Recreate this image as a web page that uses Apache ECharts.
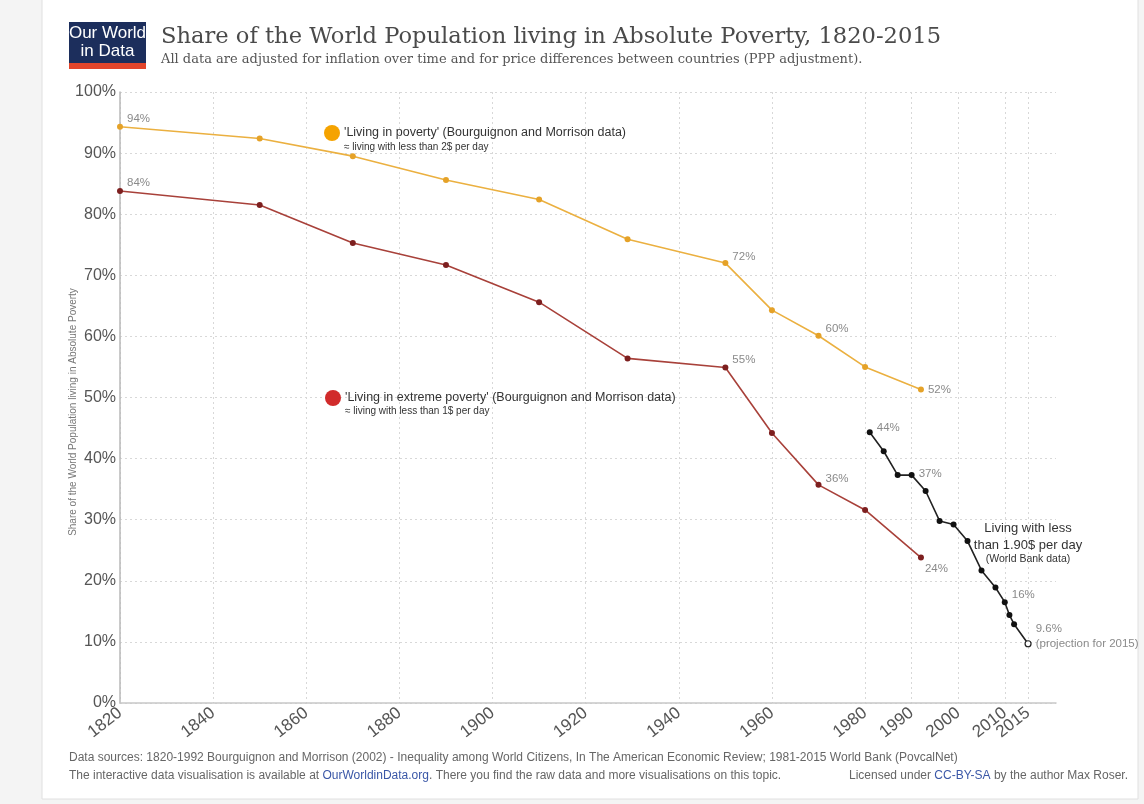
<!DOCTYPE html>
<html>
<head>
<meta charset="utf-8">
<script src="https://cdn.jsdelivr.net/npm/echarts@6/dist/echarts.min.js"></script>
<style>
html,body{margin:0;padding:0;background:#f4f4f4;}
#chart{width:1144px;height:804px;}
</style>
</head>
<body>
<div id="chart"></div>
<script>
// ---- data ----
const bmYears = [1820, 1850, 1870, 1890, 1910, 1929, 1950, 1960, 1970, 1980, 1992];
const povertyShare = [94.3, 92.4, 89.5, 85.6, 82.4, 75.9, 72.0, 64.3, 60.1, 55.0, 51.3];
const extremeShare = [83.8, 81.5, 75.3, 71.7, 65.6, 56.4, 54.9, 44.2, 35.7, 31.6, 23.8];
const wbYears = [1981, 1984, 1987, 1990, 1993, 1996, 1999, 2002, 2005, 2008, 2010, 2011, 2012, 2015];
const wbShare = [44.3, 41.2, 37.3, 37.3, 34.7, 29.8, 29.2, 26.5, 21.7, 18.9, 16.5, 14.4, 12.9, 9.7];
const xTickYears = [1820, 1840, 1860, 1880, 1900, 1920, 1940, 1960, 1980, 1990, 2000, 2010, 2015];
const xLabelYears = [1820, 1840, 1860, 1880, 1900, 1920, 1940, 1960, 1980, 1990, 2000, 2010];
const xExtraLabelYears = [2015];
const yTickValues = [0, 10, 20, 30, 40, 50, 60, 70, 80, 90, 100];
const povertyLabels = {1820: '94%', 1950: '72%', 1970: '60%', 1992: '52%'};
const extremeLabels = {1820: '84%', 1950: '55%', 1970: '36%', 1992: '24%'};
const wbLabels = {1981: '44%', 1990: '37%', 2010: '16%', 2015: '9.6%\n(projection for 2015)'};

// ---- label placement (style, not data) ----
const labelOffsets = {
  poverty: {1820: [0, -8], 1950: [0, -6], 1970: [0, -7], 1992: [0, 0]},
  extreme: {1820: [0, -8], 1950: [0, -8], 1970: [0, -6], 1992: [-3, 11]},
  wb: {1981: [0, -4], 1990: [0, -1], 2010: [0, -7], 2015: [0, -7]}
};

const labelStyle = {color: '#8a8a8a', fontSize: 11.5, fontFamily: 'Liberation Sans, Arial, sans-serif', lineHeight: 15};

function buildData(years, vals, labels, offsets, lastHollow) {
  return years.map((y, i) => {
    const item = {value: [y, vals[i]]};
    if (labels[y]) {
      item.label = Object.assign({
        show: true, position: 'right', distance: 4,
        offset: offsets[y] || [0, 0],
        formatter: labels[y]
      }, labelStyle);
    }
    if (lastHollow && i === years.length - 1) {
      item.itemStyle = {color: '#fff', borderColor: '#222', borderWidth: 1.2};
    }
    return item;
  });
}

const chart = echarts.init(document.getElementById('chart'), null, {renderer: 'canvas'});

const sans = 'Liberation Sans, Arial, Helvetica, sans-serif';
const xLabelStyle = {rotate: 38, margin: 8, interval: 0, hideOverlap: false,
  color: '#555', fontSize: 17, fontFamily: sans, formatter: v => String(v)};

const option = {
  backgroundColor: '#f4f4f4',
  animation: false,
  grid: {left: 120, right: 88, top: 92, bottom: 101, containLabel: false},
  xAxis: [
    {
      type: 'value', min: 1820, max: 2021,
      axisLine: {show: true, lineStyle: {color: '#c8c8c8', width: 1.5}},
      axisTick: {show: false, customValues: xTickYears},
      axisLabel: Object.assign({customValues: xLabelYears}, xLabelStyle),
      splitLine: {show: true, lineStyle: {color: '#d8d8d8', type: [2, 3], width: 1}}
    },
    {
      type: 'value', min: 1820, max: 2021, position: 'bottom',
      axisLine: {show: false},
      axisTick: {show: false, customValues: xExtraLabelYears},
      axisLabel: Object.assign({customValues: xExtraLabelYears}, xLabelStyle),
      splitLine: {show: false}
    }
  ],
  yAxis: {
    type: 'value', min: 0, max: 100, interval: 10,
    axisLine: {show: true, lineStyle: {color: '#b8b8b8', width: 1.5}},
    axisTick: {show: false},
    axisLabel: {
      customValues: yTickValues,
      color: '#555', fontSize: 16, fontFamily: sans, margin: 4,
      formatter: v => v + '%'
    },
    splitLine: {show: true, lineStyle: {color: '#d8d8d8', type: [2, 3], width: 1}}
  },
  graphic: [
    // page panel
    {type: 'rect', z: -10, silent: true, shape: {x: 42, y: -2, width: 1096, height: 801},
      style: {fill: '#ffffff', stroke: '#e0e0e0', lineWidth: 1}},
    // logo
    {type: 'rect', z: 100, shape: {x: 69, y: 22, width: 77, height: 47}, style: {fill: '#1c2e5c'}},
    {type: 'rect', z: 100, shape: {x: 69, y: 63, width: 77, height: 6}, style: {fill: '#e2452b'}},
    {type: 'text', z: 101, x: 107.5, y: 33, style: {text: 'Our World', fill: '#fff', font: '17px "Liberation Sans Narrow", "Liberation Sans", Arial, sans-serif', textAlign: 'center', textVerticalAlign: 'middle'}},
    {type: 'text', z: 101, x: 107.5, y: 51, style: {text: 'in Data', fill: '#fff', font: '17px "Liberation Sans Narrow", "Liberation Sans", Arial, sans-serif', textAlign: 'center', textVerticalAlign: 'middle'}},
    // title & subtitle
    {type: 'text', z: 100, x: 161, y: 37, style: {text: 'Share of the World Population living in Absolute Poverty, 1820-2015', fill: '#4a4a4a', font: '22.6px "DejaVu Serif", Georgia, serif', textVerticalAlign: 'middle'}},
    {type: 'text', z: 100, x: 161, y: 60, style: {text: 'All data are adjusted for inflation over time and for price differences between countries (PPP adjustment).', fill: '#555', font: '13px "DejaVu Serif", Georgia, serif', textVerticalAlign: 'middle'}},
    // y axis title
    {type: 'text', z: 100, x: 73, y: 412, rotation: Math.PI / 2, style: {text: 'Share of the World Population living in Absolute Poverty', fill: '#777', font: '10px ' + sans, textAlign: 'center', textVerticalAlign: 'middle'}},
    // legend-like annotations
    {type: 'circle', z: 100, shape: {cx: 332, cy: 133, r: 8}, style: {fill: '#f5a300'}},
    {type: 'text', z: 100, x: 344, y: 133, style: {text: "'Living in poverty' (Bourguignon and Morrison data)", fill: '#333', font: '12.5px ' + sans, textVerticalAlign: 'middle'}},
    {type: 'text', z: 100, x: 344, y: 147, style: {text: '≈ living with less than 2$ per day', fill: '#333', font: '10px ' + sans, textVerticalAlign: 'middle'}},
    {type: 'circle', z: 100, shape: {cx: 333, cy: 398, r: 8}, style: {fill: '#d12b2b'}},
    {type: 'text', z: 100, x: 345, y: 398, style: {text: "'Living in extreme poverty' (Bourguignon and Morrison data)", fill: '#333', font: '12.5px ' + sans, textVerticalAlign: 'middle'}},
    {type: 'text', z: 100, x: 345, y: 411, style: {text: '≈ living with less than 1$ per day', fill: '#333', font: '10px ' + sans, textVerticalAlign: 'middle'}},
    // World Bank annotation
    {type: 'text', z: 100, x: 1028, y: 528, style: {text: 'Living with less', fill: '#333', font: '13px ' + sans, textAlign: 'center', textVerticalAlign: 'middle'}},
    {type: 'text', z: 100, x: 1028, y: 545, style: {text: 'than 1.90$ per day', fill: '#333', font: '13px ' + sans, textAlign: 'center', textVerticalAlign: 'middle'}},
    {type: 'text', z: 100, x: 1028, y: 559, style: {text: '(World Bank data)', fill: '#333', font: '10.5px ' + sans, textAlign: 'center', textVerticalAlign: 'middle'}},
    // footer
    {type: 'text', z: 100, x: 69, y: 758, style: {text: 'Data sources: 1820-1992 Bourguignon and Morrison (2002) - Inequality among World Citizens, In The American Economic Review; 1981-2015 World Bank (PovcalNet)', fill: '#666', font: '12px ' + sans, textVerticalAlign: 'middle'}},
    {type: 'text', z: 100, x: 69, y: 776, style: {
      text: '{a|The interactive data visualisation is available at }{l|OurWorldinData.org}{a|. There you find the raw data and more visualisations on this topic.}',
      textVerticalAlign: 'middle',
      rich: {a: {fill: '#666', font: '12px ' + sans}, l: {fill: '#3a57a7', font: '12px ' + sans}}
    }},
    {type: 'text', z: 100, x: 1128, y: 776, style: {
      text: '{a|Licensed under }{l|CC-BY-SA}{a| by the author Max Roser.}',
      textAlign: 'right', textVerticalAlign: 'middle',
      rich: {a: {fill: '#666', font: '12px ' + sans}, l: {fill: '#3a57a7', font: '12px ' + sans}}
    }}
  ],
  series: [
    {
      name: 'Living in poverty', type: 'line',
      data: buildData(bmYears, povertyShare, povertyLabels, labelOffsets.poverty, false),
      symbol: 'circle', symbolSize: 6,
      lineStyle: {color: '#ebb040', width: 1.6},
      itemStyle: {color: '#e5a228'},
      label: {show: false}, z: 3
    },
    {
      name: 'Living in extreme poverty', type: 'line',
      data: buildData(bmYears, extremeShare, extremeLabels, labelOffsets.extreme, false),
      symbol: 'circle', symbolSize: 6,
      lineStyle: {color: '#a8413a', width: 1.6},
      itemStyle: {color: '#7d1f1f'},
      label: {show: false}, z: 3
    },
    {
      name: 'World Bank $1.90', type: 'line',
      data: buildData(wbYears, wbShare, wbLabels, labelOffsets.wb, true),
      symbol: 'circle', symbolSize: 6,
      lineStyle: {color: '#222', width: 1.6},
      itemStyle: {color: '#111'},
      label: {show: false}, z: 4
    }
  ]
};
chart.setOption(option);
</script>
</body>
</html>
